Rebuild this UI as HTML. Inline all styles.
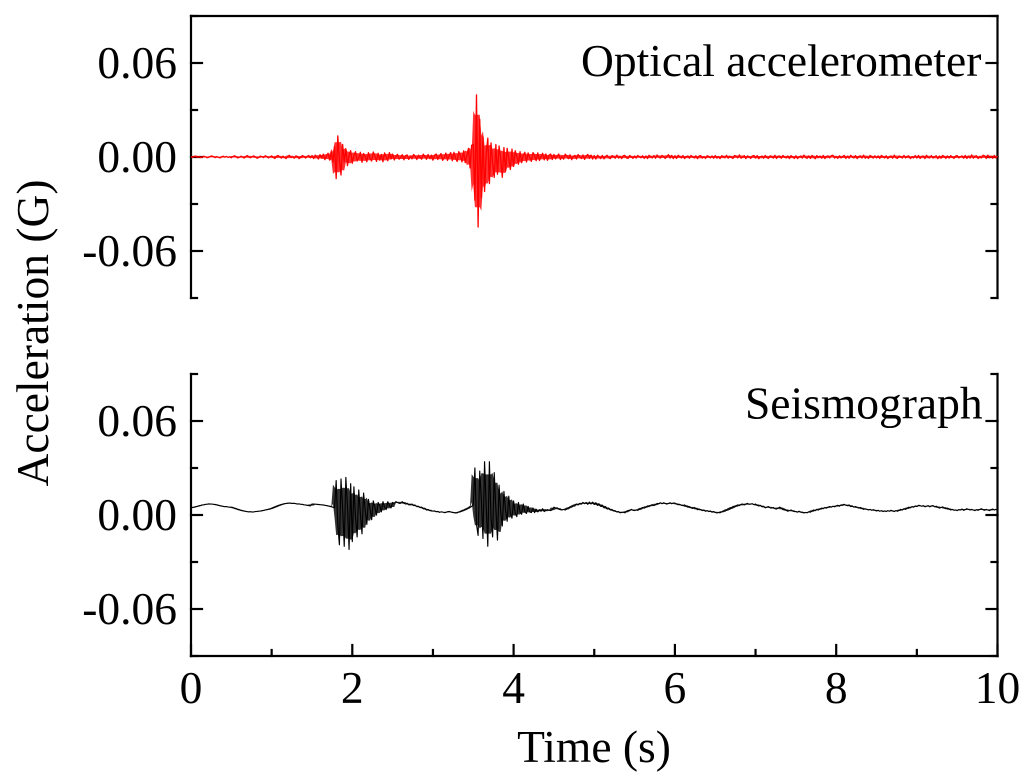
<!DOCTYPE html>
<html lang="en">
<head>
<meta charset="utf-8">
<title>Acceleration chart</title>
<style>
html,body{margin:0;padding:0;background:#fff;width:1024px;height:783px;overflow:hidden}
svg{display:block}
text{font-family:"Liberation Serif",serif;fill:#000;font-size:45.5px}
</style>
</head>
<body>
<svg id="chart" width="1024" height="783" viewBox="0 0 1024 783" xmlns="http://www.w3.org/2000/svg"></svg>
<script>
const sampleStepSeconds = 0.02;
const xMajorTicks = [0, 2, 4, 6, 8, 10];
const xMinorTicks = [1, 3, 5, 7, 9];
const yMajorTicks = [0.06, 0, -0.06];
const yMajorLabels = ["0.06", "0.00", "-0.06"];
const yMinorTicks = [0.09, 0.03, -0.03, -0.09];

// Optical accelerometer, in milli-G, one value per sample step
const opticalMilliG = [
0.2,-0.3,0.4,0.6,-0.2,0.3,-0.4,-0.1,0.5,0.1,-0.5,-0.2,0.4,0.7,0.1,-0.4,0.3,-0.2,-0.6,0.2,0.5,-0.1,0.4,-0.3,0.2,
-0.5,0.3,0.8,0.2,-0.6,-0.2,0.5,0.1,-0.7,0.4,0.9,-0.2,-0.5,0.3,0.7,0,-0.8,-0.3,0.6,0.2,-0.4,0.8,0.3,-0.6,0.1,
0.7,-0.3,-0.9,0.4,1,0.1,-0.7,0.5,-0.2,-1,0.6,1.1,-0.4,0.2,-0.8,0.7,0.3,-1,-0.3,0.9,0.4,-0.7,0.2,1,-0.5,
0.9,-1.0,1.2,0.2,-1.3,1.5,-0.6,1.8,-1.7,0.8,2.4,-2,3,-3.2,6.5,-13.8,13.5,-2,-11.5,8,-3,5,-5.5,1,4,
-4,1,3.4,-2.6,-0.5,3,-3.4,2.2,0.4,-3,2.8,-1,-2.6,3.2,0.6,-2.8,2.4,-2,1.6,-3,2.6,0.2,-2.4,2.8,-1.2,
1.8,-1.9,0.4,1.7,-1.4,-0.3,1.5,-1.8,0.8,1.3,-1.5,0.2,-1.2,1.6,0.5,-1.6,1.2,-0.4,-1.4,1.8,0.3,-1.5,1.6,-0.8,1.2,
-2,1.2,1.9,-1.6,0.4,2.2,-2.1,-0.4,2.5,-2.2,0.9,2.8,-2.4,3,-0.8,-2.8,3.4,1,-3.1,3.9,-3.6,0.8,5.5,-7,7.5,
8,-27.5,39.6,-44.7,24,-26,13,-22,2,12,-17,9,-4,-13,8,-11,7,-1,-13,6,-9,5.5,-1,-8,5,
-6,4,0.5,-4.6,3.4,-3.6,1,3,-3.2,2.6,-0.4,-2.8,2.8,1,-2.4,2.6,-2.2,0.2,2.4,-1.8,1.9,-2.1,1.2,1.9,-1.6,
1.6,-1.2,0.4,1.9,-1.6,0.2,-1.4,1.8,0.6,-1.1,1.4,-1.7,0.3,1,-1.3,1.6,0.1,-1,1.3,-1.5,0.5,1.7,-0.9,1.2,-1.3,
0.9,-1.3,1.1,0.2,-1,1,-1.2,0.4,1.1,-0.6,-1,0.9,0.3,-0.8,1.2,-0.7,0.2,-1,0.8,1,-0.6,-0.9,1,0.1,-0.9,
0.6,-0.7,1,0.1,-0.5,0.8,-0.9,0.6,-1,1.1,0.2,-0.6,0.9,-0.8,1.3,-0.2,-0.7,1,0.4,-0.9,0.2,1.5,-0.7,1,-1,
0.8,-0.9,1.1,0.3,-0.6,0.9,-1,0.2,0.7,-0.8,1,0,-0.6,0.8,-1.1,0.6,0.9,-0.7,0.1,-0.9,0.8,0.4,-0.6,0.7,-0.8,
0.9,-0.7,0.2,-1,0.8,0.3,-0.6,1.1,-0.8,0.5,-0.3,-0.9,1,0.6,-0.6,1.3,-0.8,-0.1,0.9,-1,0.7,0.2,-0.9,0.6,1,
-0.7,0.9,-1.1,0.2,0.6,-0.8,1,-0.4,-0.9,0.7,0.3,-0.7,1.1,-0.9,0.4,0.6,-0.8,1,-0.2,-0.6,0.7,-1,0.9,0.1,-0.9,
0.8,-1,0.1,0.6,-0.7,1.2,-0.4,-0.8,0.7,-0.9,1,0.2,-1.1,0.9,-0.3,0.6,-0.8,1,-1,0.4,0.7,-0.6,0.9,1.1,-0.7,
0.2,-0.9,0.8,-0.6,0.3,1,-0.9,0.5,-0.8,1.1,-0.2,-0.6,0.9,-1,0.4,0.7,-0.7,1.2,-0.8,0.1,-0.9,1,0.3,-0.7,0.8,
-0.6,0.7,-0.9,1,0.2,-0.6,0.8,-1,0.3,0.6,-0.8,1.2,-0.5,-0.9,0.7,0.2,-0.7,1,-0.6,0.4,0.7,-1,0.1,-0.6,0.9,
-0.7,1,-0.9,0.4,0.6,-1,1.1,-0.3,-0.6,0.9,-0.7,0.2,0.8,-1.1,0.6,-0.8,1,0.3,-0.9,0.7,-0.7,0.9,-0.1,-0.9,0.6,
0.9,-0.6,0.2,0.7,-0.8,1,-0.9,0.4,-0.7,1.3,-0.8,0.5,0.8,-1,0.1,-0.6,1.1,0.7,-0.9,1.2,-0.5,0.4,-0.8,1,-0.6,
0.5
];

// Seismograph, in milli-G, one value per sample step
const seismographMilliG = [
4.5,4.8,5.0,5.3,5.5,5.9,6.1,6.4,6.5,6.8,6.9,7.1,7.0,7.0,6.8,6.7,6.5,6.2,5.9,5.7,5.5,5.3,5.4,5.1,5.0,
5.0,4.8,4.3,4.0,3.5,3.3,3.0,2.7,2.5,2.3,2.1,2.0,2.1,1.9,2.0,2.2,2.3,2.4,2.5,2.7,2.9,3.2,3.4,3.6,3.8,
4.2,4.6,5.0,5.5,5.9,6.3,6.7,7.0,7.2,7.4,7.5,7.6,7.5,7.4,7.5,7.2,7.0,7.1,6.8,6.8,6.5,6.4,6.2,6.0,5.8,
7.0,7.0,6.9,6.8,6.7,6.6,6.5,6.4,6.2,6.0,5.8,5.6,5.3,5.0,4.6,22,-6,-19,23,4,-20,24,6,-22,20,
-17,18,-2,-14,16,1,-12,14,3,-6,10,4,-3,9,5,0,8,6,2,8.5,5,3.5,8.5,6,4.5,
8,7.5,8.5,8,7.5,7.5,8.5,7.5,7,7.5,6.5,6.5,7,6,6,5.5,5.5,4.8,5,4.2,4,3.2,3.5,2.8,2.6,
2.5,2.6,2.1,2.3,1.7,2,1.9,1.5,1.6,2.1,2.3,2,1.6,1.5,1.3,1.4,1.9,2.1,2.5,3,3.6,3.8,4.4,4.9,5.5,
6.5,30,-6,-13,28,10,-15,34,6,-20,34,-2,-14,27,4,-16,19,2,-7,15,3,-4,12,1,-2,
9,1,-1,8,2,0.5,7,2,1,5.5,2,1.5,4.5,1.5,3.6,2,3.4,2.4,4,2.2,3,3.4,3,2.8,3.4,
5,4.4,4.6,3.8,3.4,3.2,3.6,3.2,3.8,4.6,5.2,5,6,6.5,7,6.4,7.4,7,8,7.2,8,6.8,8.2,7,8.2,
6.8,7.8,6.2,7,5.6,6.2,4.8,5.2,3.8,4.2,3.2,3.4,2.6,2.4,2,2.2,1.4,1.6,1.8,1.4,2.2,2.8,3,3.6,3,
2.8,3.2,3,3.6,4.2,4.8,4.4,5,5.8,5.4,6.2,6.6,6,6.6,7.4,7.2,7.8,7.2,7.8,7.4,7,7.4,7.8,7.2,7.6,
7.6,7,6.6,6.8,6.2,6,6.4,5.6,5,5.4,4.6,4.2,4.8,4.2,3.4,3.8,3.4,2.8,3.2,2.4,2.8,2.2,2.6,1.8,2.2,
1.6,1.3,1.6,1.4,2,2.6,2.4,3.2,4,3.6,4.6,5.4,5,6,6.4,6,6.8,7,6.4,7,7.4,6.8,7,7.2,6.6,
7,6.2,5.8,6.2,5.4,5.4,4.6,5,5.4,4.6,4.4,4.8,4,3.8,4.4,5,4.4,3.4,3.8,3,2.4,2.8,3.2,2.6,2.2,
2.2,1.8,2.4,1.9,1.6,1.3,1.6,1.4,2,1.8,2.6,3.2,2.8,3.6,3.2,4,4.4,4,4.8,4.4,5,5.4,5,5.6,5.2,
5.8,6.2,5.6,6.4,6.5,6.8,6.2,6,6.4,5.4,5.6,5,5.4,4.8,4.4,4.8,4.2,3.6,4,3.6,3.2,3.6,3,3.4,3,
2.6,3,2.4,2.8,2.2,2.6,2.2,2.8,2.4,3,2.6,2.2,2.8,2.4,3,3.6,3.2,4,3.6,4.4,5,4.6,5.4,5,5.8,
5.4,6.2,6,5.6,6,5.2,5.6,6,5.2,5.8,6,5.2,5.6,5,4.4,4.8,5.2,4.4,4,4.4,3.8,3.2,3.6,3,3.2,
2.8,3.4,3.2,3.8,3,3.4,4,3.6,3.2,3.6,3.2,2.8,3.4,3,3.6,4,3.4,3,3.6,3.2,2.8,3.4,3.8,3.2,3.6,
3.2
];

const panels = [
  {id:"optical", top:16, bottom:298, zero:157, values:opticalMilliG, color:"#ff0000", width:1.3, bandOpacity:0.8, caption:"Optical accelerometer", captionX:581, captionY:76, showXAxis:false},
  {id:"seismograph", top:374, bottom:656, zero:515, values:seismographMilliG, color:"#000000", width:1.15, bandOpacity:0.8, caption:"Seismograph", captionX:745, captionY:418.5, showXAxis:true}
];

const svgNS = "http://www.w3.org/2000/svg";
const chart = document.getElementById("chart");
const plotLeft = 191;
const plotRight = 997.5;
const xMax = 10;
const pxPerG = 94 / 0.06;

function xScale(t){ return plotLeft + (t / xMax) * (plotRight - plotLeft); }
function yScale(panel, g){ return panel.zero - g * pxPerG; }

function addLine(parent, x1, y1, x2, y2){
  const l = document.createElementNS(svgNS, "line");
  l.setAttribute("x1", x1);
  l.setAttribute("y1", y1);
  l.setAttribute("x2", x2);
  l.setAttribute("y2", y2);
  l.setAttribute("stroke", "#000");
  l.setAttribute("stroke-width", "2.2");
  l.setAttribute("stroke-linecap", "square");
  parent.appendChild(l);
  return l;
}
function addText(parent, str, x, y, anchor){
  const t = document.createElementNS(svgNS, "text");
  t.setAttribute("x", x);
  t.setAttribute("y", y);
  t.setAttribute("text-anchor", anchor);
  t.textContent = str;
  parent.appendChild(t);
  return t;
}

// Filled band following the local spread of a trace, so dense oscillation reads as solid
function bandPoints(panel){
  const upper = [];
  const lower = [];
  const n = panel.values.length;
  for (let i = 0; i < n; i++) {
    const slice = panel.values.slice(Math.max(0, i - 2), Math.min(n, i + 3));
    const hi = Math.max.apply(null, slice);
    const lo = Math.min.apply(null, slice);
    const mid = (hi + lo) / 2;
    const x = xScale(i * sampleStepSeconds).toFixed(2);
    upper.push(x + "," + yScale(panel, (mid + 0.7 * (hi - mid)) / 1000).toFixed(2));
    lower.unshift(x + "," + yScale(panel, (mid + 0.7 * (lo - mid)) / 1000).toFixed(2));
  }
  return upper.concat(lower).join(" ");
}

panels.forEach(function(panel){
  const g = document.createElementNS(svgNS, "g");
  
  
  chart.appendChild(g);

  // spines
  const leftSpine = addLine(g, plotLeft, panel.top, plotLeft, panel.bottom);
  
  
  const rightSpine = addLine(g, plotRight, panel.top, plotRight, panel.bottom);
  
  

  // y ticks
  yMajorTicks.forEach(function(v, i){
    const y = yScale(panel, v);
    const a = addLine(g, plotLeft, y, plotLeft + 11, y);
    
    
    const b = addLine(g, plotRight, y, plotRight - 11, y);
    
    
    const label = addText(g, yMajorLabels[i], 177, y + 15, "end");
    
    
  });
  yMinorTicks.forEach(function(v){
    const y = yScale(panel, v);
    const a = addLine(g, plotLeft, y, plotLeft + 6, y);
    
    
    const b = addLine(g, plotRight, y, plotRight - 6, y);
    
    
  });

  // caption
  const caption = addText(g, panel.caption, panel.captionX, panel.captionY, "start");
  
  

  if (panel.showXAxis) {
    const bottomAxis = addLine(g, plotLeft, panel.bottom, plotRight, panel.bottom);
    
    
    xMajorTicks.forEach(function(v){
      const x = xScale(v);
      const tick = addLine(g, x, panel.bottom, x, panel.bottom - 11);
      
      
      const label = addText(g, String(v), x, 703, "middle");
      
      
    });
    xMinorTicks.forEach(function(v){
      const x = xScale(v);
      const tick = addLine(g, x, panel.bottom, x, panel.bottom - 6);
      
      
    });
  } else {
    const topAxis = addLine(g, plotLeft, panel.top, plotRight, panel.top);
    
    
  }

  // density band under the trace
  const band = document.createElementNS(svgNS, "polygon");
  band.setAttribute("points", bandPoints(panel));
  band.setAttribute("fill", panel.color);
  band.setAttribute("fill-opacity", panel.bandOpacity);
  
  
  g.appendChild(band);

  // trace, drawn over the ticks
  const points = panel.values.map(function(v, i){
    return xScale(i * sampleStepSeconds).toFixed(2) + "," + yScale(panel, v / 1000).toFixed(2);
  }).join(" ");
  const trace = document.createElementNS(svgNS, "polyline");
  trace.setAttribute("points", points);
  trace.setAttribute("fill", "none");
  trace.setAttribute("stroke", panel.color);
  trace.setAttribute("stroke-width", panel.width);
  trace.setAttribute("stroke-linejoin", "round");
  
  
  g.appendChild(trace);
});

const xTitle = addText(chart, "Time (s)", 594, 762, "middle");



const yTitle = addText(chart, "Acceleration (G)", 0, 0, "middle");
yTitle.setAttribute("transform", "translate(48 333) rotate(-90)");


</script>
</body>
</html>
